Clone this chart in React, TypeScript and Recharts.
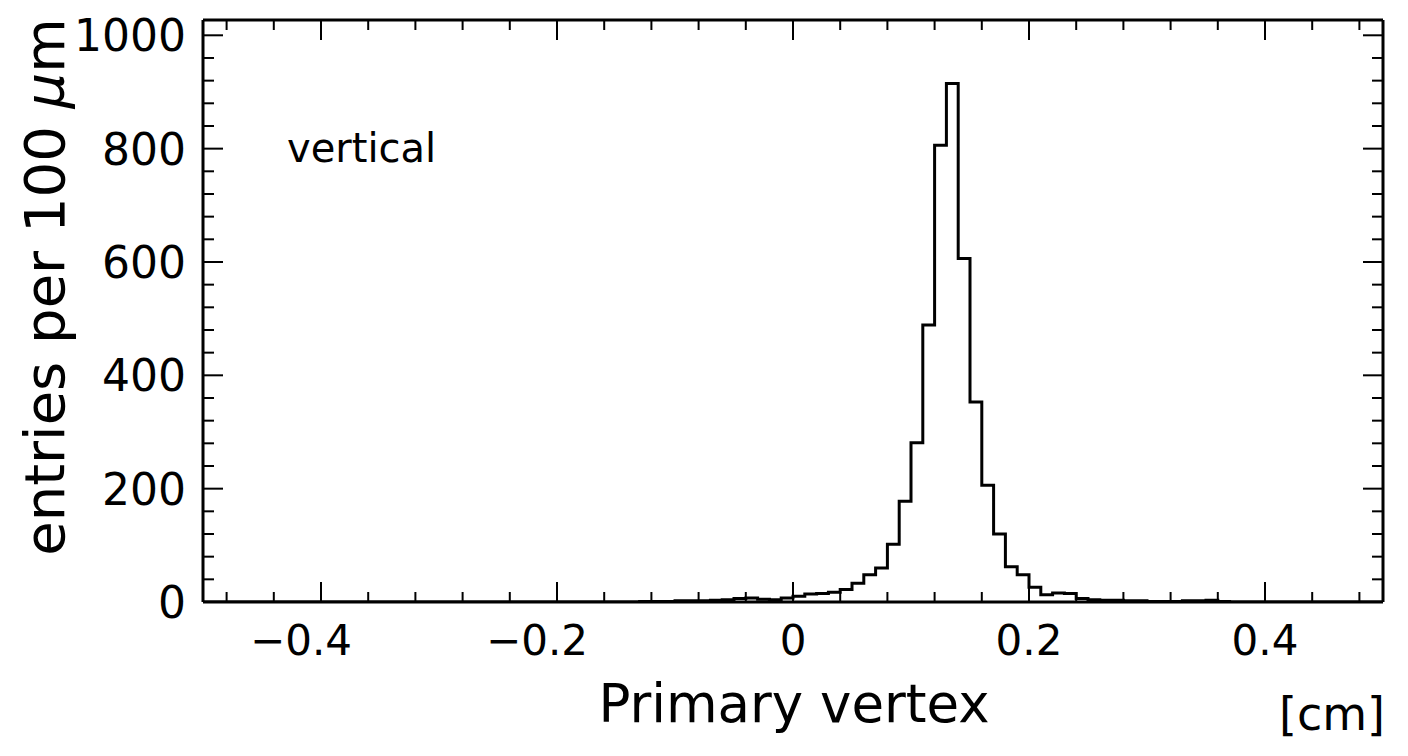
import { LineChart, Line, XAxis, YAxis } from 'recharts';

// histogram: 100 bins of 100 µm from -0.5 to 0.5 cm
const BIN_START = -0.5;
const BIN_WIDTH = 0.01;

const counts = [
  // -0.50 .. -0.41
  0, 0, 0, 0, 0, 0, 0, 0, 0, 0,
  // -0.40 .. -0.31
  0, 0, 0, 0, 0, 0, 0, 0, 0, 0,
  // -0.30 .. -0.21
  0, 0, 0, 0, 0, 0, 0, 0, 0, 0,
  // -0.20 .. -0.11
  0, 0, 0, 0, 0, 0, 0, 1, 1, 1,
  // -0.10 .. -0.01
  2, 2, 2, 3, 4, 6, 7, 5, 4, 7,
  // 0.00 .. 0.09
  10, 14, 15, 17, 22, 33, 48, 60, 102, 178,
  // 0.10 .. 0.19
  281, 489, 806, 915, 606, 353, 206, 120, 62, 48,
  // 0.20 .. 0.29
  26, 13, 16, 15, 6, 4, 3, 3, 2, 2,
  // 0.30 .. 0.39
  1, 1, 1, 2, 2, 3, 1, 0, 0, 0,
  // 0.40 .. 0.49
  0, 0, 0, 0, 0, 0, 0, 0, 0, 0,
];

const xTicks = [
  -0.48, -0.44, -0.4, -0.36, -0.32, -0.28, -0.24, -0.2, -0.16, -0.12, -0.08, -0.04,
  0, 0.04, 0.08, 0.12, 0.16, 0.2, 0.24, 0.28, 0.32, 0.36, 0.4, 0.44, 0.48,
];
const xLabels: Record<string, string> = { '-0.4': '\u22120.4', '-0.2': '\u22120.2', '0': '0', '0.2': '0.2', '0.4': '0.4' };

const yTicks = [
  0, 40, 80, 120, 160, 200, 240, 280, 320, 360, 400, 440, 480, 520, 560, 600,
  640, 680, 720, 760, 800, 840, 880, 920, 960, 1000,
];
const yLabels = ['0', '200', '400', '600', '800', '1000'];

const data = counts.map((c, i) => ({ x: +(BIN_START + i * BIN_WIDTH).toFixed(2), y: c }));
data.push({ x: 0.5, y: counts[counts.length - 1] });

const FONT = '"DejaVu Sans", sans-serif';

function XTick(props: any) {
  const { x, y, payload, side } = props;
  const key = String(+payload.value.toFixed(2));
  const major = key in xLabels;
  const len = major ? 20 : 10;
  const dir = side === 'top' ? 1 : -1;
  const neg = payload.value < 0;
  return (
    <g>
      <line x1={x} x2={x} y1={y} y2={y + dir * len} stroke="#000" strokeWidth={2} />
      {side === 'bottom' && major && (
        <text x={neg ? x - 20 : x} y={y + 53} textAnchor="middle" fontSize={42} fontFamily={FONT} fill="#000">
          {xLabels[key]}
        </text>
      )}
    </g>
  );
}

function YTick(props: any) {
  const { x, y, payload, side } = props;
  const label = String(payload.value);
  const major = yLabels.includes(label);
  const len = major ? 20 : 11;
  const dir = side === 'left' ? 1 : -1;
  return (
    <g>
      <line x1={x} x2={x + dir * len} y1={y} y2={y} stroke="#000" strokeWidth={2} />
      {side === 'left' && major && (
        <text x={x - 17} y={y + 16} textAnchor="end" fontSize={44} fontFamily={FONT} fill="#000">
          {label}
        </text>
      )}
    </g>
  );
}

const axisLine = { stroke: '#000', strokeWidth: 3 };

export default function App() {
  return (
    <div style={{ position: 'absolute', left: 0, top: 0, width: 1408, height: 756, background: '#fff' }}>
      <LineChart
        width={1408}
        height={756}
        data={data}
        margin={{ top: 0, right: 0, bottom: 94, left: 123 }}
      >
        <XAxis
          xAxisId="b"
          dataKey="x"
          type="number"
          domain={[-0.5, 0.5]}
          ticks={xTicks}
          interval={0}
          allowDataOverflow
          height={60}
          tickSize={0}
          tickMargin={0}
          tickLine={false}
          axisLine={axisLine}
          tick={<XTick side="bottom" />}
        />
        <XAxis
          xAxisId="t"
          orientation="top"
          dataKey="x"
          type="number"
          domain={[-0.5, 0.5]}
          ticks={xTicks}
          interval={0}
          allowDataOverflow
          height={20}
          tickSize={0}
          tickMargin={0}
          tickLine={false}
          axisLine={axisLine}
          tick={<XTick side="top" />}
        />
        <YAxis
          yAxisId="l"
          type="number"
          domain={[0, 1027]}
          ticks={yTicks}
          interval={0}
          allowDataOverflow
          width={80}
          tickSize={0}
          tickMargin={0}
          tickLine={false}
          axisLine={axisLine}
          tick={<YTick side="left" />}
        />
        <YAxis
          yAxisId="r"
          orientation="right"
          type="number"
          domain={[0, 1027]}
          ticks={yTicks}
          interval={0}
          allowDataOverflow
          width={25}
          tickSize={0}
          tickMargin={0}
          tickLine={false}
          axisLine={axisLine}
          tick={<YTick side="right" />}
        />
        <Line
          xAxisId="t"
          yAxisId="r"
          dataKey="y"
          type="stepAfter"
          stroke="none"
          dot={false}
          isAnimationActive={false}
        />
        <Line
          xAxisId="b"
          yAxisId="l"
          dataKey="y"
          type="stepAfter"
          stroke="#000"
          strokeWidth={3}
          dot={false}
          isAnimationActive={false}
        />
        <text x={287} y={162} fontSize={40} fontFamily={FONT} fill="#000">vertical</text>
        <text x={794} y={722} textAnchor="middle" fontSize={53} fontFamily={FONT} fill="#000">Primary vertex</text>
        <text x={1385} y={730} textAnchor="end" fontSize={46} fontFamily={FONT} fill="#000">[cm]</text>
        <text
          x={64}
          y={287}
          transform="rotate(-90 64 287)"
          textAnchor="middle"
          fontSize={56}
          fontFamily={FONT}
          fill="#000"
        >
          entries per 100 <tspan fontStyle="italic">µ</tspan>m
        </text>
      </LineChart>
    </div>
  );
}
